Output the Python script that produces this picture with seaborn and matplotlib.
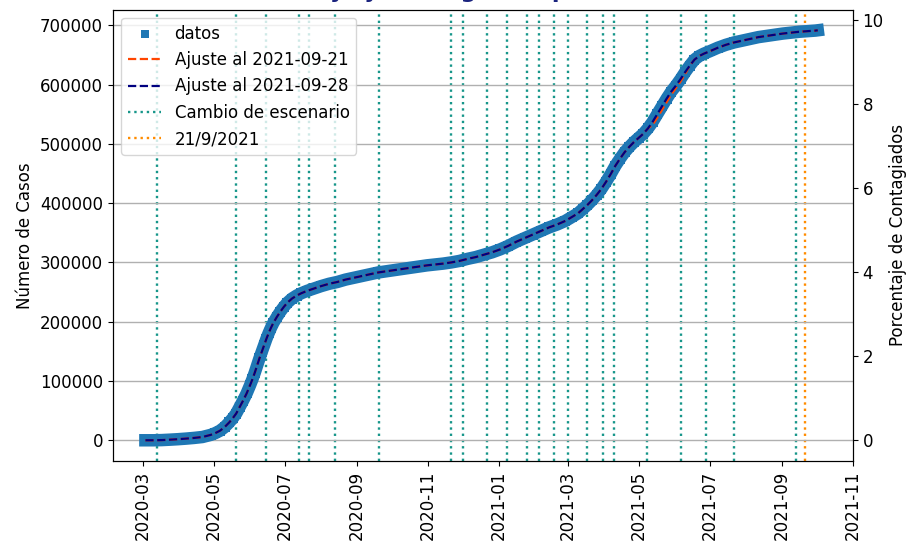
import pandas as pd
import matplotlib
matplotlib.use("Agg")
import matplotlib.pyplot as plt
import matplotlib.dates as mdates
import seaborn as sns

plt.rcParams['font.size'] = 12

# datos acumulados
fechas = ["2020-03-03", "2020-03-10", "2020-03-17", "2020-03-24", "2020-03-31", "2020-04-07",
          "2020-04-14", "2020-04-21", "2020-04-28", "2020-05-02", "2020-05-06", "2020-05-10",
          "2020-05-14", "2020-05-17", "2020-05-20", "2020-05-23", "2020-05-26", "2020-05-29",
          "2020-06-01", "2020-06-03", "2020-06-05", "2020-06-07", "2020-06-09", "2020-06-11",
          "2020-06-13", "2020-06-15", "2020-06-17", "2020-06-19", "2020-06-21", "2020-06-24",
          "2020-06-27", "2020-06-30", "2020-07-03", "2020-07-07", "2020-07-11", "2020-07-15",
          "2020-07-20", "2020-07-26", "2020-08-01", "2020-08-08", "2020-08-15", "2020-08-22",
          "2020-08-29", "2020-09-05", "2020-09-12", "2020-09-19", "2020-09-26", "2020-10-03",
          "2020-10-10", "2020-10-17", "2020-10-24", "2020-10-31", "2020-11-07", "2020-11-14",
          "2020-11-21", "2020-11-28", "2020-12-05", "2020-12-12", "2020-12-19", "2020-12-26",
          "2021-01-02", "2021-01-09", "2021-01-16", "2021-01-23", "2021-01-30", "2021-02-06",
          "2021-02-13", "2021-02-20", "2021-02-27", "2021-03-05", "2021-03-10", "2021-03-14",
          "2021-03-18", "2021-03-22", "2021-03-26", "2021-03-30", "2021-04-03", "2021-04-07",
          "2021-04-11", "2021-04-15", "2021-04-19", "2021-04-23", "2021-04-27", "2021-05-01",
          "2021-05-05", "2021-05-09", "2021-05-13", "2021-05-17", "2021-05-21", "2021-05-25",
          "2021-05-29", "2021-06-02", "2021-06-06", "2021-06-10", "2021-06-14", "2021-06-18",
          "2021-06-22", "2021-06-26", "2021-07-01", "2021-07-08", "2021-07-15", "2021-07-22",
          "2021-07-29", "2021-08-05", "2021-08-12", "2021-08-19", "2021-08-26", "2021-09-02",
          "2021-09-09", "2021-09-16", "2021-09-23", "2021-09-30", "2021-10-02"]
casos = [0, 0, 300, 1000, 1800, 2800,
         4000, 5500, 9000, 12000, 16000, 22000,
         30000, 37000, 45000, 56000, 67000, 79000,
         93000, 103000, 114000, 126000, 138000, 149000,
         160000, 171000, 181000, 190000, 198000, 208000,
         217000, 225000, 232000, 239000, 244000, 248000,
         252000, 256000, 260000, 264000, 267000, 271000,
         274000, 277000, 280000, 283000, 285000, 287000,
         289000, 291000, 293000, 295000, 296500, 298000,
         300000, 302500, 306000, 309000, 313000, 317000,
         322000, 328000, 335000, 341000, 347000, 353000,
         359000, 364000, 370000, 377000, 383000, 390000,
         397000, 405000, 414000, 424000, 436000, 449000,
         463000, 475000, 486000, 495000, 503000, 510000,
         517000, 526000, 537000, 550000, 563000, 576000,
         588000, 598000, 609000, 621000, 632000, 642000,
         648000, 652000, 656000, 662000, 667000, 671000,
         674000, 677000, 680000, 682000, 684000, 686000,
         687500, 689000, 690000, 691000, 691500]

# ajustes (coinciden con los datos salvo en mayo-junio 2021)
ajuste_28 = casos
ajuste_21 = casos[:86] + [532000, 544000, 557000, 570000, 583000, 594000, 605000, 618000] + casos[94:]

cambios = ["2020-03-13", "2020-05-20", "2020-06-15", "2020-07-13", "2020-07-22", "2020-08-13",
           "2020-09-20", "2020-11-21", "2020-12-01", "2020-12-22", "2021-01-08", "2021-01-25",
           "2021-02-04", "2021-02-17", "2021-03-01", "2021-03-18", "2021-03-31", "2021-04-10",
           "2021-05-08", "2021-06-06", "2021-06-28", "2021-07-22", "2021-09-13"]
fecha_corte = "2021-09-21"
poblacion = 7084000

df = pd.DataFrame({'fecha': pd.to_datetime(fechas), 'casos': casos,
                   'aj21': ajuste_21, 'aj28': ajuste_28})

fig, ax = plt.subplots(figsize=(9.1, 5.44), dpi=100)
fig.subplots_adjust(left=0.124, right=0.937, top=0.982, bottom=0.153)

for i, c in enumerate(cambios):
    ax.axvline(pd.to_datetime(c), color='#17968a', linestyle=':', linewidth=1.7,
               label='Cambio de escenario' if i == 0 else None, zorder=1)
ax.axvline(pd.to_datetime(fecha_corte), color='darkorange', linestyle=':', linewidth=1.7,
           label='21/9/2021', zorder=1)

# banda de datos: linea gruesa + marcadores cuadrados
sns.lineplot(data=df, x='fecha', y='casos', ax=ax, color='tab:blue', linewidth=9,
             legend=False, zorder=2)
sns.scatterplot(data=df, x='fecha', y='casos', ax=ax, marker='s', s=50, color='tab:blue',
                linewidth=0, label='datos', zorder=3)
sns.lineplot(data=df, x='fecha', y='aj21', ax=ax, color='orangered', linestyle='--',
             linewidth=1.6, label='Ajuste al 2021-09-21', zorder=4)
sns.lineplot(data=df, x='fecha', y='aj28', ax=ax, color='navy', linestyle='--',
             linewidth=1.6, label='Ajuste al 2021-09-28', zorder=5)

ax.set_xlim(pd.Timestamp('2020-02-04'), pd.Timestamp('2021-11-01'))
ax.xaxis.set_major_locator(mdates.MonthLocator(bymonth=[1, 3, 5, 7, 9, 11]))
ax.xaxis.set_major_formatter(mdates.DateFormatter('%Y-%m'))
ax.tick_params(axis='x', rotation=90)
ax.set_xlabel('')
ax.set_ylabel('Número de Casos')
ax.grid(axis='y', color='#b0b0b0', linewidth=1)
ax.ticklabel_format(axis='y', style='plain')

handles, labels = ax.get_legend_handles_labels()
orden = ['datos', 'Ajuste al 2021-09-21', 'Ajuste al 2021-09-28', 'Cambio de escenario', '21/9/2021']
h = [handles[labels.index(l)] for l in orden]
ax.legend(h, orden, loc='upper left', markerscale=0.75)

ax2 = ax.twinx()
y0, y1 = ax.get_ylim()
ax2.set_ylim(y0 / poblacion * 100, y1 / poblacion * 100)
ax2.set_ylabel('Porcentaje de Contagiados')

# titulo (queda recortado en el borde superior, como en la referencia)
fig.text(0.534, 1.004, 'Casos y ajuste logístico por escenario', ha='center', va='baseline',
         fontsize=16, fontweight='bold', color='#1a237e')

plt.savefig('out.png', dpi=100)
